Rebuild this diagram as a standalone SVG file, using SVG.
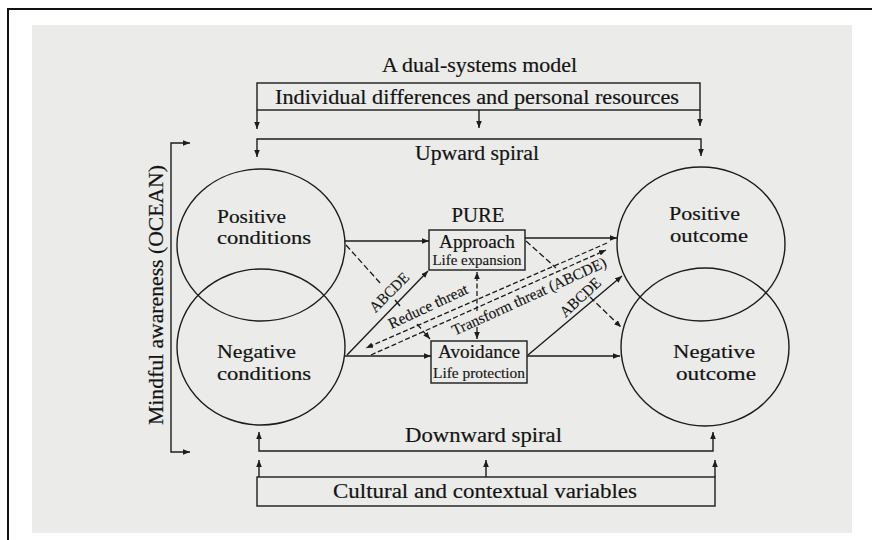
<svg xmlns="http://www.w3.org/2000/svg" width="872" height="540" viewBox="0 0 872 540">
  <defs>
    <marker id="ah" viewBox="0 0 10 8" refX="10" refY="4" markerWidth="7" markerHeight="5.6" markerUnits="userSpaceOnUse" orient="auto-start-reverse">
      <path d="M0,0 L10,4 L0,8 z" fill="#1c1c1c"/>
    </marker>
    <style>
      .ln{fill:none;stroke:#1c1c1c;stroke-width:1.4}
      .dash{fill:none;stroke:#1c1c1c;stroke-width:1.3;stroke-dasharray:6 3}
      .dd{fill:none;stroke:#1c1c1c;stroke-width:1.3;stroke-dasharray:5 2.5}
      .node{fill:none;stroke:#1c1c1c;stroke-width:1.4}
      .t{font-family:"Liberation Serif","Times New Roman",serif;fill:#141414;stroke:#141414;stroke-width:0.2;font-size:20px}
      .c{font-size:18.5px}
      .s{font-family:"Liberation Serif","Times New Roman",serif;fill:#141414;stroke:#141414;stroke-width:0.15;font-size:15.5px}
      .m{text-anchor:middle}
    </style>
  </defs>

  <rect x="0" y="0" width="872" height="540" fill="#ffffff"/>
  <rect x="32" y="25" width="820" height="508" fill="#ebece9"/>
  <path d="M8,540 V9 H872" fill="none" stroke="#111" stroke-width="2"/>

  <g id="title">
    <text class="t" x="382" y="72" textLength="195" lengthAdjust="spacingAndGlyphs">A dual-systems model</text>
  </g>

  <g id="individual-differences">
    <rect class="node" x="257" y="83" width="443" height="27"/>
    <text class="t" x="275" y="104" textLength="404" lengthAdjust="spacingAndGlyphs">Individual differences and personal resources</text>
  </g>

  <g id="upward-spiral">
    <text class="t" x="415" y="160" textLength="124" lengthAdjust="spacingAndGlyphs">Upward spiral</text>
  </g>

  <g id="mindful-awareness">
    <text class="t m" transform="translate(163,295) rotate(-90)" x="0" y="0" textLength="260" lengthAdjust="spacingAndGlyphs">Mindful awareness (OCEAN)</text>
  </g>

  <g id="positive-conditions">
    <ellipse class="node" cx="261" cy="245" rx="84" ry="76"/>
    <text class="t c" x="217" y="223" textLength="69" lengthAdjust="spacingAndGlyphs">Positive</text>
    <text class="t c" x="217" y="244" textLength="94" lengthAdjust="spacingAndGlyphs">conditions</text>
  </g>

  <g id="negative-conditions">
    <ellipse class="node" cx="261" cy="347" rx="84" ry="78"/>
    <text class="t c" x="217" y="358" textLength="79" lengthAdjust="spacingAndGlyphs">Negative</text>
    <text class="t c" x="217" y="380" textLength="94" lengthAdjust="spacingAndGlyphs">conditions</text>
  </g>

  <g id="pure">
    <text class="t m" x="478" y="222" textLength="53" lengthAdjust="spacingAndGlyphs">PURE</text>
  </g>

  <g id="approach">
    <rect class="node" x="429" y="230" width="96" height="40"/>
    <text class="t m" x="477" y="248" style="font-size:18.5px" textLength="76" lengthAdjust="spacingAndGlyphs">Approach</text>
    <text class="s m" x="477" y="265" textLength="89" lengthAdjust="spacingAndGlyphs">Life expansion</text>
  </g>

  <g id="avoidance">
    <rect class="node" x="431" y="341" width="96" height="42"/>
    <text class="t m" x="479" y="358" style="font-size:18.5px" textLength="82" lengthAdjust="spacingAndGlyphs">Avoidance</text>
    <text class="s m" x="479" y="378" textLength="92" lengthAdjust="spacingAndGlyphs">Life protection</text>
  </g>

  <g id="positive-outcome">
    <ellipse class="node" cx="701" cy="244" rx="84" ry="77"/>
    <text class="t c" x="669" y="220" textLength="71" lengthAdjust="spacingAndGlyphs">Positive</text>
    <text class="t c" x="670" y="242" textLength="78" lengthAdjust="spacingAndGlyphs">outcome</text>
  </g>

  <g id="negative-outcome">
    <ellipse class="node" cx="705" cy="347" rx="84" ry="79"/>
    <text class="t c" x="673" y="358" textLength="82" lengthAdjust="spacingAndGlyphs">Negative</text>
    <text class="t c" x="676" y="380" textLength="80" lengthAdjust="spacingAndGlyphs">outcome</text>
  </g>

  <g id="downward-spiral">
    <text class="t" x="405" y="442" textLength="157" lengthAdjust="spacingAndGlyphs">Downward spiral</text>
  </g>

  <g id="cultural-variables">
    <rect class="node" x="257" y="477" width="458" height="29"/>
    <text class="t" x="333" y="498" textLength="304" lengthAdjust="spacingAndGlyphs">Cultural and contextual variables</text>
  </g>

  <g id="connectors">
    <!-- individual differences -->
    <path class="ln" d="M257,110 V129" marker-end="url(#ah)"/>
    <path class="ln" d="M479,110 V128" marker-end="url(#ah)"/>
    <path class="ln" d="M700,110 V126" marker-end="url(#ah)"/>
    <!-- upward spiral bracket -->
    <path class="ln" d="M257,157 V139 H701 V156" marker-start="url(#ah)" marker-end="url(#ah)"/>
    <!-- mindful awareness -->
    <path class="ln" d="M190,143 H171 V452 H190" marker-start="url(#ah)" marker-end="url(#ah)"/>
    <!-- downward spiral bracket -->
    <path class="ln" d="M259,432 V451 H713 V432" marker-start="url(#ah)" marker-end="url(#ah)"/>
    <!-- cultural variables -->
    <path class="ln" d="M259,477 V460" marker-end="url(#ah)"/>
    <path class="ln" d="M486,477 V460" marker-end="url(#ah)"/>
    <path class="ln" d="M715,477 V460" marker-end="url(#ah)"/>

    <!-- horizontal solid arrows -->
    <path class="ln" d="M345,241 H429" marker-end="url(#ah)"/>
    <path class="ln" d="M345,356 H431" marker-end="url(#ah)"/>
    <path class="ln" d="M525,238 H617" marker-end="url(#ah)"/>
    <path class="ln" d="M527,356 H620" marker-end="url(#ah)"/>

    <!-- solid diagonals -->
    <path class="ln" d="M347,355 L428,271" marker-end="url(#ah)"/>
    <path class="ln" d="M528,355 L622,276" marker-end="url(#ah)"/>

    <!-- dashed cross diagonals -->
    <path class="dash" d="M346,245 L381,284"/>
    <path class="ln" d="M395,300 L400,306"/>
    <path class="dash" d="M417,324 L430,339" marker-end="url(#ah)"/>
    <path class="dash" d="M526,241 L556,268"/>
    <path class="dash" d="M590,297 L621,327" marker-end="url(#ah)"/>

    <!-- reduce / transform threat -->
    <path class="dd" d="M607,243 L366,348" marker-end="url(#ah)"/>
    <path class="dd" d="M371,355 L606,250" marker-end="url(#ah)"/>

    <!-- vertical dashed between approach and avoidance -->
    <path class="dd" d="M477,311 V272" marker-end="url(#ah)"/>
    <path class="dd" d="M477,327 V339" marker-end="url(#ah)"/>

    <!-- connector labels -->
    <text class="s m" transform="translate(389,292) rotate(-45)" dominant-baseline="central" textLength="49" lengthAdjust="spacingAndGlyphs">ABCDE</text>
    <text class="s m" transform="translate(428,306) rotate(-25)" dominant-baseline="central" textLength="86" lengthAdjust="spacingAndGlyphs">Reduce threat</text>
    <text class="s m" transform="translate(529,296) rotate(-24.5)" dominant-baseline="central" textLength="168" lengthAdjust="spacingAndGlyphs">Transform threat (ABCDE)</text>
    <text class="s m" transform="translate(580,297) rotate(-43)" dominant-baseline="central" textLength="50" lengthAdjust="spacingAndGlyphs">ABCDE</text>
  </g>
</svg>
